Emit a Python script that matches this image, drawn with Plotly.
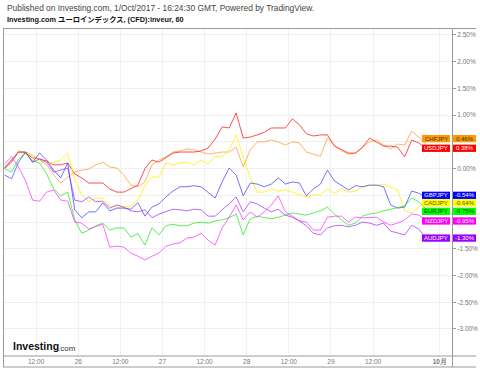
import plotly.graph_objects as go

# time axis: hours since 25 Sep 00:00 (hourly chart, sampled every 2h)
hours = list(range(3, 124, 2))

usdjpy = [0.00, 0.12, 0.31, 0.29, 0.20, 0.18, 0.14, 0.07, 0.07, 0.105, -0.10, -0.175, -0.27, -0.27, -0.27,
          -0.38, -0.44, -0.44, -0.38, -0.31, 0.00, 0.16, 0.12, 0.20, 0.29, 0.31, 0.31, 0.31, 0.33, 0.385,
          0.55, 0.78, 0.76, 1.04, 0.57, 0.59, 0.63, 0.68, 0.76, 0.76, 0.76, 0.93, 0.82, 0.65, 0.61,
          0.63, 0.63, 0.42, 0.35, 0.29, 0.29, 0.40, 0.57, 0.50, 0.42, 0.42, 0.40, 0.22, 0.535, 0.48, 0.38]
chfjpy = [0.03, 0.16, 0.33, 0.31, 0.25, 0.16, 0.07, -0.12, -0.27, -0.16, -0.065, -0.03, -0.01, 0.07, 0.12,
          0.03, 0.01, -0.12, -0.31, -0.34, -0.25, 0.07, 0.16, 0.22, 0.31, 0.33, 0.37, 0.35, 0.31, 0.27,
          0.29, 0.31, 0.31, 0.40, 0.03, 0.35, 0.50, 0.50, 0.535, 0.50, 0.44, 0.50, 0.48, 0.31, 0.27,
          0.23, 0.57, 0.44, 0.33, 0.27, 0.29, 0.40, 0.50, 0.535, 0.44, 0.37, 0.46, 0.44, 0.70, 0.59, 0.46]
cadjpy = [0.03, 0.16, 0.31, 0.31, 0.22, 0.16, 0.12, 0.105, 0.16, 0.29, -0.21, -0.49, -0.62, -0.55, -0.55,
          -0.70, -0.72, -0.72, -0.70, -0.59, -0.32, -0.16, -0.16, 0.105, 0.07, 0.105, 0.12, 0.07, 0.16, 0.09,
          0.22, 0.22, 0.35, 0.63, 0.22, -0.16, -0.44, -0.44, -0.38, -0.42, -0.40, -0.44, -0.49, -0.53, -0.49,
          -0.49, -0.38, -0.47, -0.38, -0.44, -0.42, -0.34, -0.31, -0.31, -0.29, -0.34, -0.40, -0.79, -0.83, -0.72, -0.64]
gbpjpy = [-0.12, -0.19, 0.12, 0.31, 0.12, 0.29, 0.16, -0.03, -0.175, 0.105, -0.77, -0.92, -0.81, -0.81, -0.64,
          -0.79, -0.74, -0.74, -0.76, -0.64, -0.89, -0.72, -0.66, -0.53, -0.42, -0.34, -0.34, -0.32, -0.34, -0.44,
          -0.55, -0.25, 0.01, -0.12, -0.51, -0.27, -0.29, -0.34, -0.29, -0.175, -0.29, -0.25, -0.27, -0.51, -0.38,
          -0.29, -0.03, -0.23, -0.32, -0.40, -0.32, -0.34, -0.31, -0.31, -0.34, -0.68, -0.74, -0.72, -0.42, -0.46, -0.54]
eurjpy = [0.00, -0.065, 0.18, 0.29, 0.14, 0.105, -0.10, -0.38, -0.51, -0.44, -0.96, -1.21, -1.15, -1.07, -1.02,
          -1.15, -1.11, -1.11, -1.28, -1.22, -1.43, -1.11, -1.24, -1.07, -1.04, -1.07, -1.07, -1.02, -1.00, -1.02,
          -0.98, -0.96, -0.92, -0.85, -1.24, -0.94, -0.89, -0.92, -0.94, -0.91, -0.87, -0.83, -0.85, -0.87, -0.83,
          -0.79, -0.72, -0.85, -0.96, -1.06, -1.02, -0.89, -0.85, -0.83, -0.79, -0.76, -0.74, -0.70, -0.55, -0.62, -0.75]
nzdjpy = [0.09, 0.22, 0.03, -0.23, -0.59, -0.61, -0.44, -0.40, -0.59, -0.61, -1.00, -1.02, -1.13, -1.09, -1.04,
          -1.47, -1.45, -1.47, -1.58, -1.64, -1.71, -1.64, -1.58, -1.45, -1.41, -1.39, -1.30, -1.28, -1.21, -1.34,
          -1.43, -1.11, -0.91, -0.68, -0.96, -0.81, -0.91, -0.81, -0.68, -0.51, -0.81, -0.89, -0.98, -1.00, -1.15,
          -1.15, -0.91, -0.89, -0.89, -1.00, -0.91, -0.92, -0.92, -0.91, -1.00, -1.06, -1.02, -0.96, -0.85, -0.87, -0.95]
audjpy = [0.01, 0.16, 0.31, 0.31, 0.12, 0.18, 0.12, -0.065, -0.03, 0.01, -0.59, -0.62, -0.53, -0.62, -0.61,
          -0.74, -0.68, -0.72, -0.79, -0.81, -0.77, -0.92, -0.85, -0.81, -0.76, -0.77, -0.79, -0.76, -0.77, -0.89,
          -0.89, -0.77, -0.66, -0.53, -0.81, -0.62, -0.66, -0.74, -0.81, -0.76, -0.87, -0.91, -0.98, -1.07, -1.21,
          -1.24, -1.11, -1.07, -1.06, -1.09, -1.06, -1.00, -1.02, -1.06, -1.02, -1.17, -1.21, -1.24, -1.06, -1.13, -1.30]

x_tick_vals = [12, 24, 36, 48, 60, 72, 84, 96, 108, 127]
x_tick_text = ["12:00", "26", "12:00", "27", "12:00", "28", "12:00", "29", "12:00", "<b>10月</b>"]
y_tick_vals = [2.5, 2.0, 1.5, 1.0, 0.5, 0.0, -0.5, -1.0, -1.5, -2.0, -2.5, -3.0]
y_tick_text = ["2.50%", "2.00%", "1.50%", "1.00%", "0.50%", "0.00%", "-0.50%", "-1.00%",
               "-1.50%", "-2.00%", "-2.50%", "-3.00%"]

# name, values, line colour, box colour, text colour
series = [
    ("CHFJPY", chfjpy, "rgba(255,150,30,0.7)", "#ff9900", "#333333"),
    ("USDJPY", usdjpy, "rgba(255,20,20,0.75)", "#ff0000", "#ffffff"),
    ("CADJPY", cadjpy, "rgba(255,240,0,0.8)", "#ffff00", "#555500"),
    ("GBPJPY", gbpjpy, "rgba(40,40,255,0.65)", "#0000ff", "#ffffff"),
    ("EURJPY", eurjpy, "rgba(0,230,0,0.65)", "#00ff00", "#004400"),
    ("NZDJPY", nzdjpy, "rgba(255,40,255,0.7)", "#ff00ff", "#ffffff"),
    ("AUDJPY", audjpy, "rgba(160,40,255,0.7)", "#9900ff", "#ffffff"),
]
# small vertical nudges of the end labels (in % units) so they separate a little
label_nudge = {"CHFJPY": 0.10, "GBPJPY": 0.04, "EURJPY": -0.05, "NZDJPY": -0.03}

W, H = 480, 369
L, R, T, B = 3, 28, 28, 13
PW, PH = W - L - R, H - T - B
def px2x(px):
    return (px - L) / PW
def py2y(py):
    return (H - B - py) / PH

fig = go.Figure()
for name, vals, lc, bc, tc in series:
    fig.add_trace(go.Scatter(x=hours, y=vals, mode="lines", name=name,
                             line=dict(color=lc, width=1), hoverinfo="skip", showlegend=False))

shapes = []
annotations = []
half = 0.068
label_centres = []
for name, vals, lc, bc, tc in series:
    v = vals[-1]
    yc = v + label_nudge.get(name, 0.0)
    label_centres.append(yc)
    shapes.append(dict(type="rect", xref="paper", yref="y", x0=px2x(422), x1=px2x(450),
                       y0=yc - half, y1=yc + half, fillcolor=bc, line=dict(width=0), layer="above"))
    shapes.append(dict(type="rect", xref="paper", yref="y", x0=px2x(452.5), x1=px2x(476),
                       y0=yc - half, y1=yc + half, fillcolor=bc, line=dict(width=0), layer="above"))
    annotations.append(dict(xref="paper", yref="y", x=px2x(436), y=yc, text=name, showarrow=False,
                            font=dict(size=6, color=tc, family="Liberation Sans, Arial"),
                            xanchor="center", yanchor="middle", borderpad=0))
    annotations.append(dict(xref="paper", yref="y", x=px2x(464.5), y=yc, text=f"{v:.2f}%",
                            showarrow=False, font=dict(size=6, color=tc, family="Liberation Sans, Arial"),
                            xanchor="center", yanchor="middle", borderpad=0))

# axis labels hidden behind the value boxes (as in the original) are left blank
shown_tick_text = [t if all(abs(tv - c) > 0.12 for c in label_centres) else ""
                   for tv, t in zip(y_tick_vals, y_tick_text)]

# frame lines
frame = "#9a9a9a"
shapes += [
    dict(type="line", xref="paper", yref="paper", x0=px2x(3), x1=px2x(476), y0=py2y(28.5), y1=py2y(28.5),
         line=dict(color=frame, width=1)),
    dict(type="line", xref="paper", yref="paper", x0=px2x(3.5), x1=px2x(3.5), y0=py2y(28), y1=py2y(367),
         line=dict(color=frame, width=1)),
    dict(type="line", xref="paper", yref="paper", x0=px2x(3), x1=px2x(476), y0=py2y(356), y1=py2y(356),
         line=dict(color=frame, width=1)),
    dict(type="line", xref="paper", yref="paper", x0=px2x(3), x1=px2x(476), y0=py2y(367), y1=py2y(367),
         line=dict(color=frame, width=1)),
    dict(type="line", xref="paper", yref="paper", x0=px2x(452.5), x1=px2x(452.5), y0=py2y(28), y1=py2y(367),
         line=dict(color=frame, width=1)),
]

annotations += [
    dict(xref="paper", yref="paper", x=px2x(5), y=py2y(8), xanchor="left", yanchor="middle", showarrow=False,
         text="Published on Investing.com, 1/Oct/2017 - 16:24:30 GMT, Powered by TradingView.",
         font=dict(size=8.4, color="#444444", family="Liberation Sans, Arial")),
    dict(xref="paper", yref="paper", x=px2x(5), y=py2y(19.5), xanchor="left", yanchor="middle", showarrow=False,
         text="<b>Investing.com ユーロインデックス, (CFD):inveur, 60</b>",
         font=dict(size=7.3, color="#111111", family="Liberation Sans, Noto Sans CJK JP")),
    dict(xref="paper", yref="paper", x=px2x(11), y=py2y(346), xanchor="left", yanchor="middle", showarrow=False,
         text="<b>Investing</b>", font=dict(size=10.5, color="#111111", family="Liberation Sans, Arial")),
    dict(xref="paper", yref="paper", x=px2x(56), y=py2y(348), xanchor="left", yanchor="middle", showarrow=False,
         text=".com", font=dict(size=8, color="#333333", family="Liberation Sans, Arial")),
]

fig.update_layout(
    width=W, height=H, margin=dict(l=L, r=R, t=T, b=B, autoexpand=False),
    paper_bgcolor="white", plot_bgcolor="white",
    shapes=shapes, annotations=annotations,
    xaxis=dict(range=[(L + 6) / 3.51, (W - R + 6) / 3.51], tickvals=x_tick_vals, ticktext=x_tick_text,
               showgrid=True, gridcolor="#f0f0f0", gridwidth=1, zeroline=False, showline=False,
               ticks="", tickfont=dict(size=6.5, color="#777777", family="Liberation Sans, Arial")),
    yaxis=dict(range=[-3.506, 2.63], side="right", tickvals=y_tick_vals, ticktext=shown_tick_text,
               showgrid=True, gridcolor="#f0f0f0", gridwidth=1, zeroline=False, showline=False,
               ticks="outside", ticklen=3, tickcolor="#9a9a9a",
               tickfont=dict(size=6.5, color="#777777", family="Liberation Sans, Arial")),
)

fig.write_html("out.html", config={"displayModeBar": False},
               post_script="document.body.style.margin='0';document.body.style.padding='0';")
